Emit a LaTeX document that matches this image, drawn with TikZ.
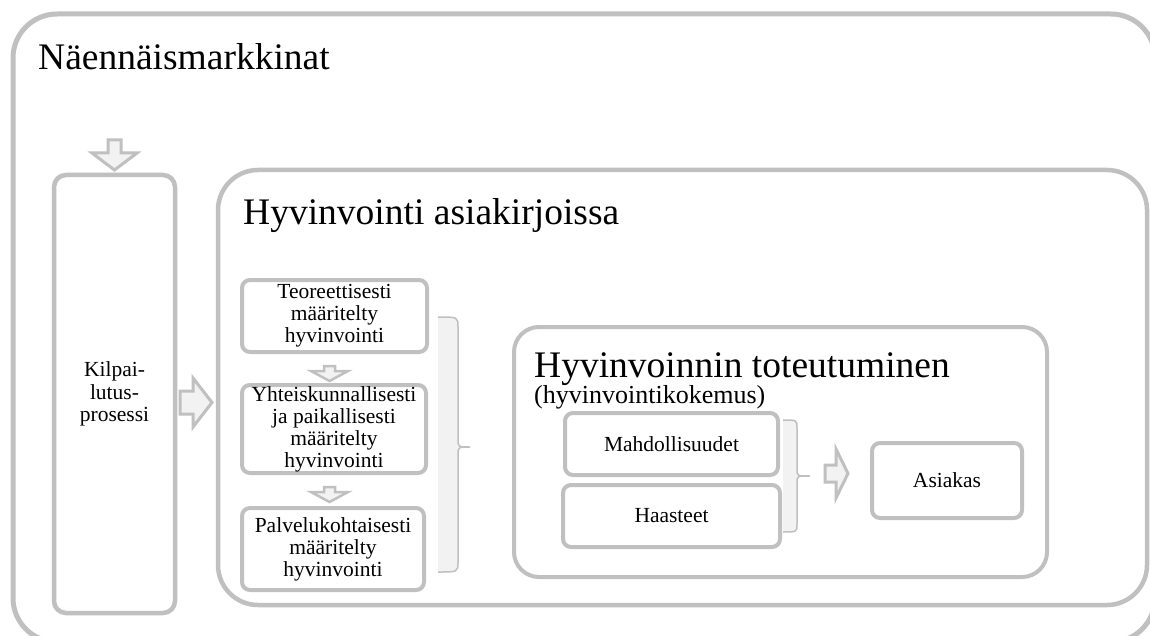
\documentclass[tikz,border=0pt]{standalone}
\usepackage{fontspec}
\setmainfont{Liberation Serif}
\definecolor{bgray}{RGB}{192,192,192}
\definecolor{lfill}{RGB}{242,242,242}
\begin{document}
\begin{tikzpicture}[x=1pt,y=-1pt,
  frame/.style={draw=bgray, line width=4.5pt, inner sep=0pt, fill=white},
  box/.style={draw=bgray, line width=4pt, rounded corners=8pt, fill=white, inner sep=0pt, align=center,
    font=\fontsize{21.5}{22}\selectfont},
  title/.style={anchor=base west, inner sep=0pt, font=\fontsize{37.5}{40}\selectfont},
  subtitle/.style={anchor=base west, inner sep=0pt, font=\fontsize{26}{28}\selectfont},
  barrow/.style={draw=bgray, fill=lfill, line width=3pt, line join=miter},
  bracefill/.style={fill=lfill},
  braceline/.style={draw=bgray, line width=1.5pt}
]
\useasboundingbox (0,0) rectangle (1150,636);

% containers
\node[frame, line width=5pt, rounded corners=44pt, minimum width=1142pt, minimum height=628pt] (outer) at (584,328) {};
\node[title] (tn) at (38,70) {Näennäismarkkinat};

\node[frame, rounded corners=12pt, minimum width=121pt, minimum height=438pt, align=center,
  font=\fontsize{21.5}{22.5}\selectfont] (kil) at (114.5,394) {Kilpai-\\lutus-\\prosessi};

\node[frame, rounded corners=40pt, minimum width=929pt, minimum height=435pt] (asiak) at (682.5,387.5) {};
\node[title] (ta) at (243,225) {Hyvinvointi asiakirjoissa};

\node[box] (teo) at (334.5,316) [minimum width=185pt, minimum height=72pt] {Teoreettisesti\\määritelty\\hyvinvointi};
\node[box] (yht) at (334,429) [minimum width=184pt, minimum height=88pt] {Yhteiskunnallisesti\\ja paikallisesti\\määritelty\\hyvinvointi};
\node[box] (pal) at (333,549) [minimum width=182pt, minimum height=82pt] {Palvelukohtaisesti\\määritelty\\hyvinvointi};

\node[frame, line width=4pt, rounded corners=25pt, minimum width=533pt, minimum height=250pt] (hyvtot) at (780.5,452) {};
\node[title] (th) at (534,377) {Hyvinvoinnin toteutuminen};
\node[subtitle] (ts) at (534,403) {(hyvinvointikokemus)};

\node[box] (mah) at (671.5,444) [minimum width=213pt, minimum height=62pt] {Mahdollisuudet};
\node[box] (haa) at (671.5,516) [minimum width=217pt, minimum height=62pt] {Haasteet};
\node[box] (asi) at (947,480.5) [minimum width=150pt, minimum height=75pt] {Asiakas};

% block arrows
\draw[barrow] (108,140) -- (121,140) -- (121,153) -- (137,153) -- (114.5,170) -- (92,153) -- (108,153) -- cycle;
\draw[barrow] (180,391) -- (193,391) -- (193,378) -- (212,402.5) -- (193,427) -- (193,414) -- (180,414) -- cycle;
\draw[barrow, line width=2.5pt] (324,366) -- (335,366) -- (335,371) -- (348,371) -- (329.5,381) -- (311,371) -- (324,371) -- cycle;
\draw[barrow, line width=2.5pt] (324,487) -- (335,487) -- (335,492) -- (348,492) -- (329.5,502) -- (311,492) -- (324,492) -- cycle;
\draw[barrow] (825,465) -- (836,465) -- (836,449) -- (848,473.5) -- (836,498) -- (836,482) -- (825,482) -- cycle;

% braces
\fill[bracefill] (438,317) .. controls (458,317) .. (458,327) -- (458,439) .. controls (458,447) .. (470,447)
  .. controls (458,447) .. (458,455) -- (458,562) .. controls (458,572) .. (438,572) -- cycle;
\draw[braceline] (438,317) .. controls (458,317) .. (458,327) -- (458,439) .. controls (458,447) .. (470,447)
  .. controls (458,447) .. (458,455) -- (458,562) .. controls (458,572) .. (438,572);

\fill[bracefill] (783,420) .. controls (797,420) .. (797,428) -- (797,469) .. controls (797,476) .. (810,476)
  .. controls (797,476) .. (797,483) -- (797,524) .. controls (797,532) .. (783,532) -- cycle;
\draw[braceline] (783,420) .. controls (797,420) .. (797,428) -- (797,469) .. controls (797,476) .. (810,476)
  .. controls (797,476) .. (797,483) -- (797,524) .. controls (797,532) .. (783,532);
\end{tikzpicture}
\end{document}
